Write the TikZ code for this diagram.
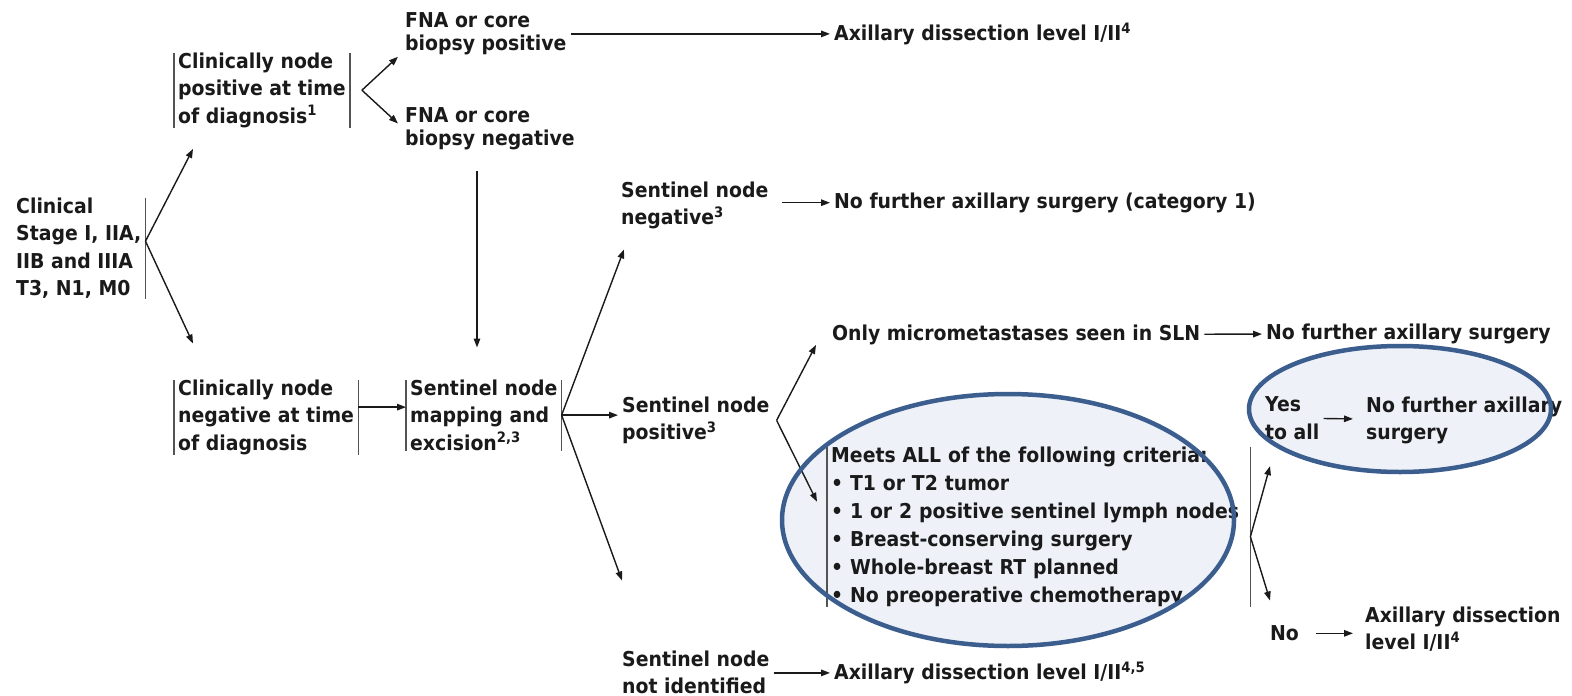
\documentclass[tikz,border=0pt]{standalone}
\usepackage{fontspec}
\setmainfont{DejaVu Sans}[FakeStretch=0.92]
\usetikzlibrary{arrows.meta,positioning}
\definecolor{ink}{HTML}{1A1A1A}
\definecolor{ringline}{HTML}{3B5E8F}
\definecolor{ringfill}{HTML}{EEF2F8}

\begin{document}
\begin{tikzpicture}[
  x=1pt, y=-1pt,
  txt/.style={anchor=north west, inner xsep=4pt, inner ysep=0pt, align=left, text=ink, font={\fontsize{20.5}{27.5}\selectfont\bfseries}},
  tight/.style={font={\fontsize{20.5}{23}\selectfont\bfseries}},
  crit/.style={font={\fontsize{20.5}{28}\selectfont\bfseries}},
  arrow/.style={-{Triangle[length=9pt,width=6.5pt]}, line width=1.4pt, draw=ink},
  bar/.style={line width=1.4pt, draw=ink!75},
  oval/.style={line width=4.5pt, draw=ringline}
]
\path[use as bounding box, fill=white] (0,0) rectangle (1572,696);
\fill[ringfill] (1008,520) ellipse [x radius=226, y radius=126];
\fill[ringfill] (1400,409) ellipse [x radius=151, y radius=63];

\node[txt] (stage) at (12,197.5) {Clinical\\Stage I, IIA,\\IIB and IIIA\\T3, N1, M0};
\node[txt] (pos) at (174,52.5) {Clinically node\\positive at time\\of diagnosis\textsuperscript{1}};
\node[txt] (neg) at (174,379.5) {Clinically node\\negative at time\\of diagnosis};
\node[txt, tight] (fnapos) at (401,12.5) {FNA or core\\biopsy positive};
\node[txt, tight] (fnaneg) at (401,107.5) {FNA or core\\biopsy negative};
\node[txt] (axpos) at (830,22.5) {Axillary dissection level I/II\textsuperscript{4}};
\node[txt] (map) at (406,379.5) {Sentinel node\\mapping and\\excision\textsuperscript{2,3}};
\node[txt] (slnneg) at (617,181.5) {Sentinel node\\negative\textsuperscript{3}};
\node[txt] (nofurther) at (830,192.5) {No further axillary surgery (category 1)};
\node[txt] (slnpos) at (618,396.5) {Sentinel node\\positive\textsuperscript{3}};
\node[txt] (slnmiss) at (618,650.5) {Sentinel node\\not identified};
\node[txt] (axmiss) at (830,661.5) {Axillary dissection level I/II\textsuperscript{4,5}};
\node[txt] (micro) at (828,324.5) {Only micrometastases seen in SLN};
\node[txt] (nomicro) at (1262,323.5) {No further axillary surgery};
\node[txt, crit, text width=415pt] (criteria) at (827,446.5) {Meets ALL of the following criteria:\\\textbullet{} T1 or T2 tumor\\\textbullet{} 1 or 2 positive sentinel lymph nodes\\\textbullet{} Breast-conserving surgery\\\textbullet{} Whole-breast RT planned\\\textbullet{} No preoperative chemotherapy};
\node[txt] (yes) at (1261,396.5) {Yes\\to all};
\node[txt] (noaxil) at (1362,396.5) {No further axillary\\surgery};
\node[txt] (no) at (1266,625.5) {No};
\node[txt] (axno) at (1361,606.5) {Axillary dissection\\level I/II\textsuperscript{4}};

\foreach \n in {pos,neg,map,criteria}
  \draw[bar] (\n.north west) -- (\n.south west) (\n.north east) -- (\n.south east);
\draw[bar] (stage.north east) -- (stage.south east);

\coordinate (stagefork) at ([yshift=7pt]stage.east);
\coordinate (posfork) at ([xshift=12pt]pos.east);
\coordinate (drop) at ([xshift=76pt]fnaneg.south west);
\coordinate (mapin) at ([yshift=8pt]map.west);
\coordinate (slnfork) at ([xshift=3pt]slnpos.east);
\coordinate (critfork) at ([yshift=-10pt]criteria.east);

\draw[arrow] (stagefork) -- ([xshift=19pt,yshift=-21pt]pos.south west);
\draw[arrow] (stagefork) -- ([xshift=19pt,yshift=36pt]neg.north west);
\draw[arrow] (posfork) -- ([xshift=-3pt,yshift=-1.5pt]fnapos.south west);
\draw[arrow] (posfork) -- ([xshift=-3pt,yshift=-16pt]fnaneg.north west);
\draw[arrow] (fnapos.east |- axpos.west) -- (axpos.west);
\draw[arrow, shorten <=21pt, shorten >=32pt] (drop) -- (drop |- map.north);
\draw[arrow] (mapin -| neg.east) -- (mapin);
\draw[arrow] (map.east) -- ([xshift=7pt,yshift=-20pt]slnneg.south west);
\draw[arrow] (map.east) -- (map.east -| slnpos.west);
\draw[arrow] (map.east) -- ([xshift=4pt,yshift=70pt]slnmiss.north west);
\draw[arrow, shorten <=9pt] (slnneg.east |- nofurther.west) -- (nofurther.west);
\draw[arrow] (slnfork) -- ([xshift=-12pt]micro.south west);
\draw[arrow] (slnfork) -- ([xshift=-10pt,yshift=25pt]criteria.west);
\draw[arrow] (micro) -- (nomicro);
\draw[arrow] (slnmiss.east |- axmiss.west) -- (axmiss.west);
\draw[arrow] (critfork) -- ([xshift=9pt,yshift=-26.5pt]yes.south west);
\draw[arrow] (critfork) -- ([xshift=4pt,yshift=25pt]no.north west);
\draw[arrow, shorten >=9pt] (yes) -- (noaxil);
\draw[arrow, shorten <=13pt, shorten >=8pt] (no.east) -- (no.east -| axno.west);

\draw[oval] (1008,520) ellipse [x radius=226, y radius=126];
\draw[oval] (1400,409) ellipse [x radius=151, y radius=63];
\end{tikzpicture}
\end{document}
